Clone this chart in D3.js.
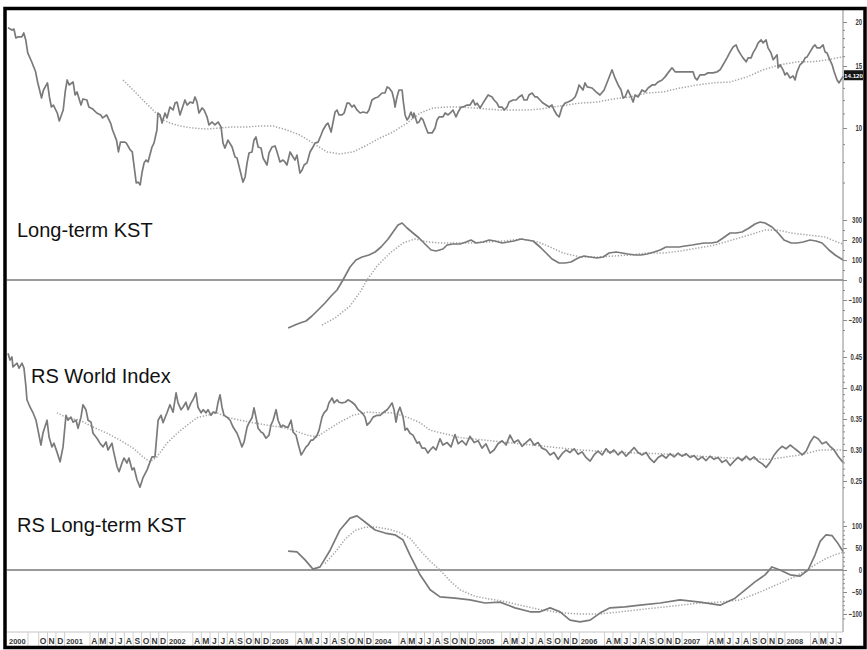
<!DOCTYPE html>
<html><head><meta charset="utf-8">
<script src="https://cdn.jsdelivr.net/npm/d3@7/dist/d3.min.js"></script>
<style>
body{margin:0;background:#fff;}
svg{display:block;}
</style></head>
<body>
<svg id="c" width="867" height="650"></svg>
<script>
// ---------- time base (weeks since start) ----------
const startDate = new Date(2000, 5, 14);
const endWeek = 423.3;

// ---------- price (log scale) ----------
const priceWeek = [0,2,3,4,5,7,8,9,10,12,14,15,17,18,20,21,22,23,25,26,28,29,30,31,33,34,35,37,38,40,41,43,45,47,48,50,52,53,55,56,57,59,60,62,63,65,66,67,68,69,70,71,73,74,75.5,76,77.1,78.1,79.6,80.6,82.1,83.7,84.7,85.7,87.2,88.7,89.7,90.8,92.3,93.8,94.8,95.8,96.8,98.4,99.4,100.9,101.9,103.4,104.9,106.5,108,109,110,111.5,113.6,115.1,116.1,117.6,119.1,120.2,121.2,122.2,123.7,124.7,125.7,126.8,128.3,129.3,131.3,132.3,133.8,135.4,136.4,137.9,139.4,140.4,141.4,143,144.5,145.5,146.5,148,149.1,150.1,151.6,153.1,154.6,155.6,157.2,158.7,159.7,161.2,162.2,163.8,164.8,165.8,166.8,167.8,169.3,170.4,171.9,172.9,174.4,175.4,176.9,178.5,180,182,183,184.5,186.1,187.6,189.6,191.1,192.2,193.2,194.7,195.7,196.2,197.2,198.2,199.8,200.3,201.3,202.3,203.3,204.3,205.3,205.8,207.4,208.4,209.4,210.4,211.9,212.9,215,216.5,217.5,218.5,220.5,221.6,223.1,224.6,225.6,227.1,228.2,229.7,230.7,232.7,234.2,235.8,236.8,237.8,239.3,240.8,241.8,243.4,245.4,246.4,247.9,248.9,250.5,251.5,253,254,256,257.6,259.1,260.6,261.6,263.1,264.1,265.7,267.2,268.2,269.7,271.2,272.8,274.3,275.8,276.8,278.3,279.4,280.9,282.4,283.9,285.9,287.5,288.5,289.5,291.5,292.5,293.6,296.1,298.1,300.1,302.2,304.2,306.2,307.7,309.3,310.8,311.8,312.8,314.3,315.9,316.9,317.9,319.4,321.4,323,324.5,326.5,328,329.6,331.6,333.1,334.6,336.6,338.2,339.7,342.2,344.8,347.3,348.3,349.3,350.8,352.9,354.9,357.4,359.5,361,362.5,364.5,366.1,367.6,369.1,370.1,371.6,372.6,374.2,375.2,376.7,377.7,379.2,380.3,381.8,382.8,384.3,385.3,386.8,387.9,389.9,390.4,391.4,392.9,393.9,394.9,396.5,398,399,400,401.5,403.1,404.1,405.1,406.6,408.1,409.1,410.2,411.7,413.2,414.2,415.2,416.2,417.8,418.8,420.3,421.3,423.3];
const priceValue = [19.25,18.97,19.1,18.02,18.14,18.14,18.62,17.79,16.34,15.42,14.44,13.51,12.17,12.82,13.43,12.25,11.47,11.62,11.03,10.47,11.25,12.66,13.69,13.25,13.51,12.41,12.66,11.62,12.09,12.01,11.47,11.32,11.03,10.89,10.68,10.89,10.33,9.87,9.24,8.55,9.12,9.12,9.06,8.66,8.55,6.98,7.02,6.89,7.5,7.96,8.11,8.01,8.83,9.06,9.87,11.03,10.89,10.33,11.03,10.68,11.47,11.25,11.77,11.85,10.89,11.55,12.01,11.62,11.85,11.77,12.25,11.85,11.03,11.4,11.25,10.75,10.2,10.4,10.2,10.4,10.07,9.06,8.77,9.24,8.83,8.27,8.22,7.6,7.02,7.26,7.96,8.49,8.55,9.24,9.43,8.83,8.77,8.22,7.85,8.49,8.83,8.89,8.55,8.01,8.11,8.01,7.85,8.55,8.27,8.11,8.38,7.45,7.6,7.85,7.96,8.55,8.83,9.06,9.12,9.55,9.87,10.2,10.33,9.74,10.4,11.1,11.25,10.89,10.89,11.03,11.77,11.77,11.47,11.62,11.25,11.03,11.1,11.03,11.25,12.01,12.17,12.25,12.57,12.57,13.08,12.99,12.66,12.01,11.47,12.25,12.82,12.82,12.01,10.89,10.54,10.75,11.1,10.68,11.03,10.33,10.4,10.68,10.54,10,9.68,9.68,10,10.54,10.75,10.75,11.03,10.89,11.1,11.25,10.75,11.1,11.47,11.47,11.62,11.62,12.01,11.62,11.77,11.4,11.77,12.01,12.41,12.25,12.01,11.77,11.47,11.47,11.25,11.47,11.85,12.01,12.01,12.25,12.41,12.01,12.01,12.41,12.57,12.25,12.25,12.01,11.77,11.62,11.47,11.62,11.25,10.89,10.75,11.47,11.77,11.85,12.01,12.25,12.66,13.25,12.82,13.43,13.08,12.99,12.66,12.41,12.82,13.69,14.63,13.87,13.25,12.82,12.17,12.25,12.82,12.25,11.85,12.41,12.25,12.82,12.66,12.99,13.25,13.25,13.51,13.69,13.97,14.34,14.82,14.44,14.44,14.44,14.44,14.44,13.87,13.69,14.15,14.15,14.34,14.34,14.44,14.63,15.12,15.82,16.45,16.99,17.22,16.66,16.13,15.82,15.42,15.82,15.82,16.34,16.88,17.44,17.79,17.44,17.79,16.88,16.34,15.62,16.13,14.82,15.12,14.63,14.15,14.34,13.87,14.06,13.69,14.44,15.12,15.42,15.82,15.92,16.45,16.99,17.22,16.88,16.88,17.22,16.45,16.34,15.82,15.12,14.44,13.69,13.43,14.0];
const priceMaWeek = [58.3,63.4,68.4,73.5,78.6,82.1,87.2,93.8,100.9,107.5,114.1,121.2,127.8,134.4,141.4,148,154.6,161.7,168.3,174.9,182,188.6,195.2,202.3,208.9,215.5,222.6,229.2,235.8,242.9,249.4,256,263.1,269.7,276.3,283.4,290,298.6,306.7,315.4,324,332.1,340.7,349.3,357.4,366.1,374.7,382.8,391.4,400,408.1,415.2,423.3];
const priceMaValue = [13.69,12.82,12.01,11.25,10.54,10.33,10.13,10,9.93,10,10.07,10.07,10.13,10.13,9.87,9.55,9.06,8.55,8.44,8.55,8.94,9.37,9.74,10.33,11.03,11.4,11.47,11.47,11.4,11.32,11.25,11.25,11.25,11.32,11.47,11.62,11.77,11.85,12.09,12.25,12.57,12.66,12.99,13.25,13.43,13.51,13.97,14.63,15.12,15.42,15.42,15.62,15.92];
const lastPrice = 14.12;

// ---------- long-term KST ----------
const kstWeek = [142,145.5,148,151.1,154.1,157.2,160.7,163.8,166.8,169.8,173.4,176.4,179.5,183,186.1,189.1,192.7,195.2,197.7,199.8,202.3,205.3,208.4,211.9,214.5,217,220.5,222.6,225.6,229.2,232.2,234.7,237.3,240.8,243.9,246.9,250.5,253.5,256.5,260.1,263.1,266.2,269.7,272.8,275.8,279.4,282.4,285.4,289,292,295.1,298.6,301.7,304.7,308.3,311.3,314.3,317.9,320.9,324,327.5,330.6,333.6,337.2,340.2,343.2,346.8,349.8,352.9,356.4,359.5,362.5,366.1,369.1,372.1,375.7,378.7,381.3,383.8,387.3,390.4,393.4,397,400,403.1,406.6,409.6,412.7,416.2,419.3,423.3];
const kstValue = [-240,-225,-215,-205,-180,-150,-115,-80,-50,0,65,100,115,125,140,165,205,240,275,285,260,235,210,175,150,145,155,175,180,180,190,200,185,190,200,195,185,190,195,205,200,195,165,135,105,85,85,90,110,120,115,110,115,135,140,135,130,125,125,130,140,150,165,165,165,170,175,180,185,185,190,210,235,235,240,260,280,290,285,265,235,200,185,185,190,200,195,185,150,125,100];
const kstMaWeek = [159.2,165.8,173.4,178.5,182,187.1,193.7,200.3,206.3,212.9,219,225.6,234.2,242.9,251.5,260.1,268.7,274.8,281.4,290,298.6,307.2,315.4,324,332.6,341.2,349.8,358.4,367.1,375.7,383.8,390.4,397,405.6,414.2,420.3,423.3];
const kstMaValue = [-225,-190,-130,-60,0,70,135,185,205,190,185,185,185,190,195,205,190,165,135,115,115,120,125,135,135,145,160,175,200,225,250,250,235,225,215,190,180];

// ---------- RS World Index ----------
const rsWeek = [0,1,2,2.5,3.5,4.6,5.6,7.1,8.1,9.1,9.6,11.2,12.7,14.2,15.2,16.7,17.7,19.8,20.8,22.3,23.3,24.8,26.4,27.9,29.4,30.4,31.9,33,34.5,35.5,37,38,39.5,40.6,42.1,43.1,45.1,46.6,48.2,49.7,50.7,52.7,53.7,55.3,56.3,57.8,58.8,60.3,61.3,62.9,63.9,65.4,66.9,68.4,70.5,73,74.5,76.1,77.6,78.6,80.6,82.1,83.7,85.2,86.2,87.7,88.7,90.2,91.3,92.8,93.8,95.3,96.3,97.9,98.9,100.4,101.4,102.9,103.9,105.5,106.5,107.5,108.5,109.5,111,112.6,114.1,116.1,117.1,118.6,119.7,121.2,122.2,123.7,124.7,125.7,126.8,128.3,129.3,130.8,132.3,133.3,134.4,135.9,136.9,138.4,139.4,140.9,142,143.5,144.5,146,147,148.6,149.6,151.1,152.1,153.6,154.6,156.7,157.7,159.2,160.2,161.7,162.7,164.3,165.3,166.8,167.8,169.3,170.9,172.4,174.4,175.9,177.5,179.5,181,182,183.5,185.1,187.1,188.6,190.1,192.2,193.2,194.7,195.7,196.7,197.7,198.7,200.3,201.3,202.3,203.8,205.3,207.4,208.4,209.9,211.4,212.9,214,215.5,217,219,220.5,222.6,224.6,226.6,228.2,230.2,232.2,234.2,236.3,238.3,240.3,242.3,244.4,246.4,248.4,250.5,252.5,254.5,256.5,258.6,260.6,262.6,264.7,266.7,268.7,270.7,272.8,274.8,276.8,278.9,280.9,282.9,284.9,287,289,291,293,295.1,297.1,299.1,301.2,303.2,305.2,307.2,309.3,311.3,313.3,315.4,317.4,319.4,321.4,323.5,325.5,327.5,329.6,331.6,333.6,335.6,337.7,339.7,341.7,343.7,345.8,347.8,349.8,351.9,353.9,355.9,357.9,360,362,364,366.1,368.1,370.1,372.1,374.2,376.2,378.2,380.3,382.3,384.3,386.3,388.4,390.4,392.4,394.4,396.5,398.5,400.5,402.6,404.6,406.6,408.6,410.7,412.7,414.7,416.7,418.8,420.8,423.3];
const rsValue = [0.456,0.445,0.45,0.434,0.437,0.44,0.432,0.44,0.432,0.402,0.381,0.369,0.36,0.348,0.332,0.308,0.327,0.348,0.321,0.305,0.311,0.297,0.281,0.305,0.356,0.348,0.353,0.345,0.348,0.335,0.353,0.373,0.365,0.348,0.345,0.327,0.319,0.311,0.305,0.313,0.3,0.311,0.295,0.273,0.265,0.279,0.287,0.279,0.287,0.268,0.271,0.252,0.24,0.255,0.268,0.289,0.289,0.348,0.356,0.344,0.36,0.373,0.361,0.392,0.376,0.365,0.369,0.377,0.365,0.376,0.381,0.392,0.369,0.36,0.365,0.36,0.365,0.356,0.361,0.36,0.377,0.389,0.369,0.356,0.353,0.348,0.337,0.327,0.319,0.305,0.313,0.337,0.344,0.352,0.368,0.353,0.335,0.329,0.327,0.319,0.324,0.34,0.348,0.365,0.348,0.337,0.34,0.337,0.337,0.348,0.329,0.324,0.311,0.292,0.297,0.305,0.308,0.316,0.316,0.324,0.332,0.353,0.36,0.365,0.376,0.384,0.376,0.381,0.377,0.376,0.377,0.381,0.377,0.373,0.365,0.36,0.353,0.34,0.345,0.353,0.356,0.356,0.36,0.365,0.369,0.376,0.365,0.345,0.361,0.369,0.353,0.332,0.335,0.327,0.324,0.311,0.313,0.303,0.303,0.295,0.3,0.305,0.3,0.318,0.308,0.312,0.305,0.325,0.31,0.315,0.308,0.322,0.312,0.315,0.303,0.31,0.295,0.3,0.31,0.315,0.308,0.324,0.312,0.316,0.306,0.312,0.318,0.308,0.312,0.303,0.3,0.292,0.296,0.285,0.294,0.3,0.296,0.302,0.293,0.297,0.288,0.282,0.292,0.298,0.292,0.302,0.295,0.3,0.292,0.298,0.29,0.297,0.304,0.296,0.292,0.296,0.286,0.28,0.288,0.292,0.287,0.294,0.289,0.295,0.29,0.294,0.288,0.291,0.284,0.289,0.283,0.29,0.285,0.288,0.28,0.284,0.275,0.282,0.288,0.283,0.29,0.284,0.289,0.282,0.278,0.272,0.28,0.292,0.3,0.306,0.302,0.308,0.303,0.298,0.292,0.298,0.312,0.322,0.318,0.31,0.313,0.306,0.3,0.29,0.28];
const rsMaWeek = [24.8,29.9,36.5,43.1,50.2,56.8,63.4,68.4,72,75.5,80.6,85.7,90.8,95.8,100.9,106,111,117.6,124.2,131.3,137.9,144.5,151.6,156.7,161.7,168.3,174.9,182,188.6,195.2,202.3,208.9,214,229.2,244.4,259.6,274.8,290,310.3,330.6,350.8,371.1,386.3,401.5,411.7,423.3];
const rsMaValue = [0.36,0.352,0.348,0.337,0.327,0.316,0.303,0.289,0.281,0.289,0.311,0.327,0.34,0.352,0.356,0.36,0.353,0.348,0.344,0.34,0.337,0.332,0.324,0.321,0.332,0.345,0.356,0.361,0.36,0.36,0.353,0.344,0.332,0.32,0.315,0.31,0.305,0.3,0.296,0.294,0.29,0.286,0.285,0.292,0.3,0.3];

// ---------- RS long-term KST ----------
const rsKstWeek = [142,146.5,150.6,154.6,158.2,163.3,168.3,173.4,176.9,181,186.1,191.1,196.2,200.3,203.8,208.9,214,219,226.6,234.2,241.8,249.4,257,264.7,269.7,274.8,279.9,284.9,290,295.1,300.1,305.2,312.8,320.4,330.6,340.7,350.8,361,368.6,373.7,378.7,383.8,387.3,391.4,396.5,401.5,405.6,409.1,411.7,414.7,417.8,420.8,423.3];
const rsKstValue = [43,41,23,2,7,45,91,118,123,109,91,84,80,68,34,-11,-45,-61,-64,-68,-75,-73,-86,-95,-95,-86,-95,-114,-118,-114,-98,-86,-84,-80,-75,-68,-73,-80,-64,-45,-27,-11,7,0,-11,-14,0,34,65,80,78,60,42];
const rsKstMaWeek = [160.7,165.8,170.9,175.9,181,186.1,193.7,198.7,203.8,208.9,214,219,224.1,229.2,236.8,244.4,252,259.6,269.7,279.9,290,300.1,310.3,320.4,330.6,340.7,350.8,361,371.1,381.3,391.4,399,406.6,414.2,419.3,423.3];
const rsKstMaValue = [15,40,70,90,97,98,92,85,72,45,20,0,-25,-45,-60,-66,-72,-80,-90,-97,-100,-100,-95,-90,-85,-80,-75,-73,-68,-50,-30,-15,5,25,35,40];

// ---------- axis labels ----------
const priceTicks = [10,15,20];
const priceMinor = [7,8,9,11,12,13,14,16,17,18,19];
const kstTicks = [-200,-100,0,100,200,300];
const rsTicks = [0.25,0.30,0.35,0.40,0.45];
const rsKstTicks = [-100,-50,0,50,100];
const monthInitials = ["J","F","M","A","M","J","J","A","S","O","N","D"];
const panelTitles = ["Long-term KST","RS World Index","RS Long-term KST"];

// ---------- drawing ----------
const svg = d3.select('#c');
const W = 867, H = 650;
const plotLeft = 8, plotRight = 843;
const x = d3.scaleLinear().domain([0,endWeek]).range([plotLeft,plotRight]);
const endDate = new Date(startDate.getTime() + endWeek*7*86400000);
const xt = d3.scaleTime().domain([startDate,endDate]).range([plotLeft,plotRight]);

const yPrice = d3.scaleLog().domain([10,20]).range([128,22]);
const yKst = d3.scaleLinear().domain([0,300]).range([280,220]);
const yRs = d3.scaleLinear().domain([0.25,0.45]).range([481,357]);
const yRsKst = d3.scaleLinear().domain([-100,100]).range([614,526]);

svg.append('rect').attr('width',W).attr('height',H).attr('fill','#fff');

// zero lines
[[yKst,0],[yRsKst,0]].forEach(([y,v])=>{
  svg.append('line').attr('x1',7).attr('x2',plotRight).attr('y1',y(v)).attr('y2',y(v))
    .attr('stroke','#9a9a9a').attr('stroke-width',2);
});

function plot(weeks, vals, y, dotted){
  const data = weeks.map((w,i)=>({w, v: vals[i]}));
  svg.append('path').datum(data)
    .attr('fill','none')
    .attr('stroke', dotted ? '#a4a4a4' : '#7a7a7a')
    .attr('stroke-width', dotted ? 1.5 : 1.7)
    .attr('stroke-dasharray', dotted ? '1.3,1.7' : null)
    .attr('stroke-linejoin','round')
    .attr('d', d3.line().x(d=>x(d.w)).y(d=>y(d.v)));
}
plot(priceMaWeek, priceMaValue, yPrice, true);
plot(priceWeek, priceValue, yPrice, false);
plot(kstMaWeek, kstMaValue, yKst, true);
plot(kstWeek, kstValue, yKst, false);
plot(rsMaWeek, rsMaValue, yRs, true);
plot(rsWeek, rsValue, yRs, false);
plot(rsKstMaWeek, rsKstMaValue, yRsKst, true);
plot(rsKstWeek, rsKstValue, yRsKst, false);

// titles
const titleFont = '"Liberation Sans", Arial, sans-serif';
[[17,237],[31,383],[17,532]].forEach((p,i)=>{
  svg.append('text').attr('x',p[0]).attr('y',p[1]).text(panelTitles[i])
    .attr('font-family',titleFont).attr('font-size',20).attr('fill','#111');
});

// label width helper (condensed look)
function labelWidth(s){
  let w = 0;
  for (const ch of s) w += (ch==='.') ? 1.6 : (ch==='-') ? 2.4 : 3.3;
  return w;
}

// right axis
const axisFont = '"Liberation Sans", Arial, sans-serif';
svg.append('line').attr('x1',plotRight).attr('x2',plotRight).attr('y1',10).attr('y2',632)
  .attr('stroke','#8a8a8a').attr('stroke-width',1);
function rightAxis(y, major, minor, fmt){
  const gm = svg.append('g').attr('transform',`translate(${plotRight},0)`)
    .call(d3.axisRight(y).tickValues(minor).tickSize(2).tickFormat(''));
  gm.select('.domain').remove();
  gm.selectAll('line').attr('stroke','#8a8a8a');
  const g = svg.append('g').attr('transform',`translate(${plotRight},0)`)
    .call(d3.axisRight(y).tickValues(major).tickSize(4).tickPadding(2).tickFormat(fmt));
  g.select('.domain').remove();
  g.selectAll('line').attr('stroke','#8a8a8a');
  g.selectAll('text')
    .attr('x',19).attr('text-anchor','end')
    .attr('font-family',axisFont).attr('font-size',8.5)
    .attr('font-weight','bold').attr('fill','#3a3a3a')
    .attr('lengthAdjust','spacingAndGlyphs')
    .attr('textLength', function(){ return labelWidth(this.textContent); });
}
rightAxis(yPrice, priceTicks, priceMinor, d3.format('d'));
rightAxis(yKst, kstTicks, d3.range(-250,301,50).filter(v=>v%100!==0), d3.format('d'));
rightAxis(yRs, rsTicks, d3.range(0.24,0.461,0.01).filter(v=>Math.abs(v*20-Math.round(v*20))>0.01), d3.format('.2f'));
rightAxis(yRsKst, rsKstTicks, d3.range(-110,111,10).filter(v=>v%50!==0), d3.format('d'));

// last price box
const lp = yPrice(lastPrice);
svg.append('rect').attr('x',844).attr('y',lp-5).attr('width',19).attr('height',10).attr('fill','#151515');
svg.append('text').attr('x',853.5).attr('y',lp+2.5).attr('text-anchor','middle').text(lastPrice.toFixed(3))
  .attr('font-family',axisFont).attr('font-size',6.2).attr('font-weight','bold').attr('fill','#fff');

// bottom time axis
const axTop = 632, axBase = 644;
svg.append('line').attr('x1',7).attr('x2',plotRight).attr('y1',axTop).attr('y2',axTop)
  .attr('stroke','#c4c4c4').attr('stroke-width',1);
const months = d3.timeMonth.range(new Date(2000,6,1), endDate);
const ax = svg.append('g');
const tickFont = (sel,size)=>sel.attr('font-family',axisFont).attr('font-size',size||8.5).attr('font-weight','bold').attr('fill','#3a3a3a');
months.forEach(m=>{
  const mo = m.getMonth(), yr = m.getFullYear();
  const x0 = xt(m), x1 = Math.min(xt(d3.timeMonth.offset(m,1)), plotRight);
  if (yr===2000 && mo<9) return;
  if (mo!==1 && mo!==2) {
    ax.append('line').attr('x1',x0).attr('x2',x0).attr('y1',axTop).attr('y2',axTop+15)
      .attr('stroke','#cfcfcf').attr('stroke-width',1);
  }
  let label = null, anchor='middle', lx=(x0+x1)/2;
  if (mo===0){ label = String(yr); anchor='start'; lx = x0+1.5; }
  else if (mo>2) label = monthInitials[mo];
  if (label && x1-x0>3) {
    ax.append('text').attr('x',lx).attr('y',axBase).attr('text-anchor',anchor).text(label)
      .call(tickFont, mo===0 ? 7.5 : 8.5);
  }
});
ax.append('text').attr('x',9).attr('y',axBase).text(String(startDate.getFullYear())).call(tickFont, 7.5);
ax.append('line').attr('x1',28).attr('x2',28).attr('y1',axTop).attr('y2',axTop+15).attr('stroke','#cfcfcf');

// frame
svg.append('rect').attr('x',5).attr('y',8.5).attr('width',860).attr('height',639)
  .attr('fill','none').attr('stroke','#000').attr('stroke-width',3.5);
</script>
</body></html>
